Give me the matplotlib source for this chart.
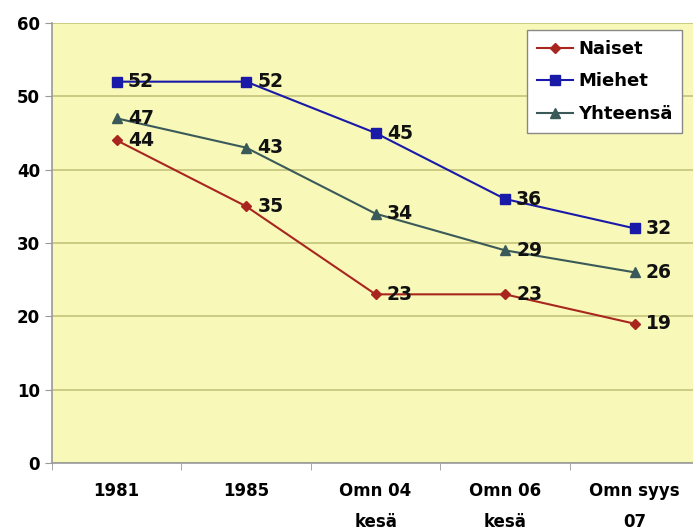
import matplotlib.pyplot as plt

categories = ['1981', '1985', 'Omn 04\nkesä', 'Omn 06\nkesä', 'Omn syys\n07']
naiset = [44, 35, 23, 23, 19]
miehet = [52, 52, 45, 36, 32]
yhteensa = [47, 43, 34, 29, 26]

fig = plt.figure(figsize=(6.93, 5.30), dpi=100)
ax = fig.add_axes([0.075, 0.1264, 0.934, 0.8302])
ax.set_facecolor('#f8f8b8')

x = range(len(categories))
ax.plot(x, naiset, color='#a8261e', marker='D', markersize=5, lw=1.5, label='Naiset', zorder=3)
ax.plot(x, miehet, color='#1a1aa8', marker='s', markersize=6.5, lw=1.5, label='Miehet', zorder=3)
ax.plot(x, yhteensa, color='#3a5a5a', marker='^', markersize=6.5, lw=1.5, label='Yhteensä', zorder=3)

# arvot pisteiden viereen
for series in (naiset, miehet, yhteensa):
    for i, v in enumerate(series):
        ax.annotate(str(v), (i, v), xytext=(8, 0), textcoords='offset points',
                    ha='left', va='center', fontsize=13.5, fontweight='bold', color='#111111', zorder=4)

ax.set_ylim(0, 60)
ax.set_yticks(range(0, 61, 10))
ax.set_xlim(-0.5, 4.5)
ax.set_xticks(list(x))
ax.set_xticklabels(categories, linespacing=1.9, va='top')
ax.set_xticks([-0.5 + i for i in range(6)], minor=True)
ax.tick_params(axis='x', which='major', length=0, pad=14, labelsize=12)
ax.tick_params(axis='x', which='minor', length=5, color='#999999')
ax.tick_params(axis='y', length=5, color='#999999', labelsize=12)
for lab in ax.get_xticklabels() + ax.get_yticklabels():
    lab.set_fontweight('bold')

ax.grid(axis='y', color='#c4c47a', lw=1.2)
ax.set_axisbelow(True)
for s in ('top', 'right'):
    ax.spines[s].set_visible(False)
for s in ('left', 'bottom'):
    ax.spines[s].set_color('#999999')
    ax.spines[s].set_linewidth(1.2)

leg = ax.legend(loc='upper right', bbox_to_anchor=(0.974, 0.984), borderaxespad=0,
                fancybox=False, framealpha=1, edgecolor='#888888',
                prop={'weight': 'bold', 'size': 13},
                handlelength=2.0, handletextpad=0.3, borderpad=0.55, labelspacing=0.8)

fig.savefig('out.png', dpi=100)
